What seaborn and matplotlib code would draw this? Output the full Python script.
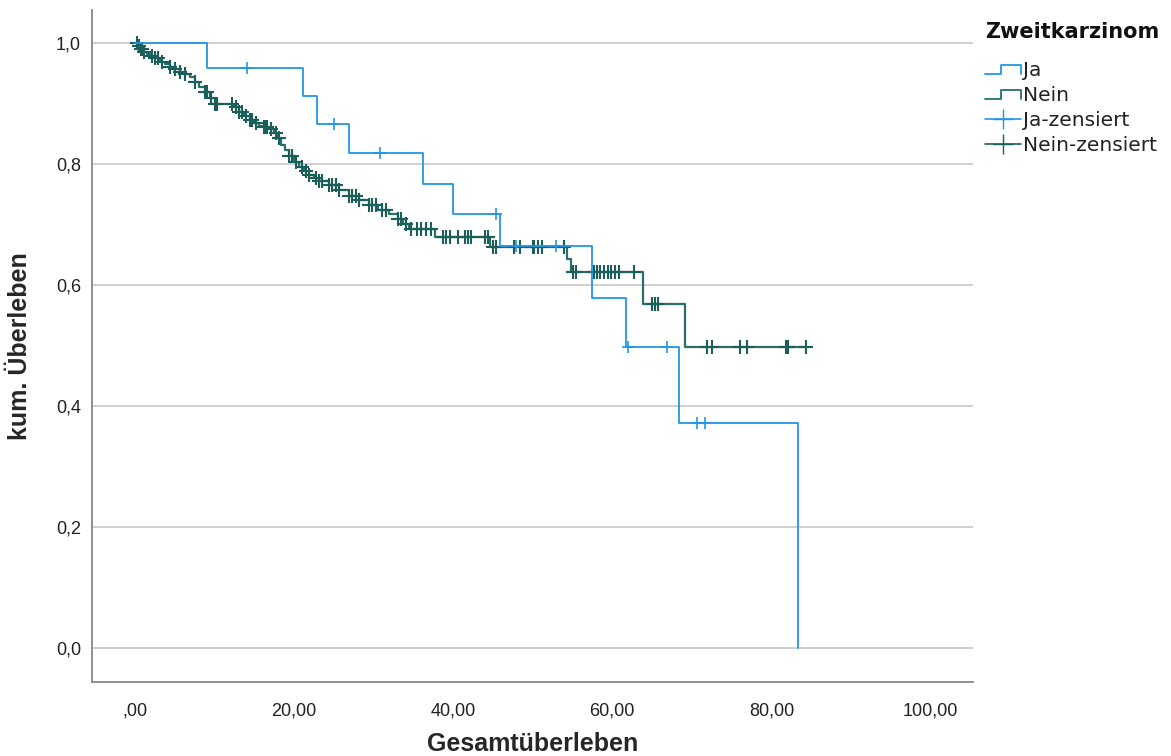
import numpy as np
import matplotlib
matplotlib.use("Agg")
import matplotlib.pyplot as plt
import seaborn as sns
from matplotlib.lines import Line2D
from matplotlib.legend_handler import HandlerBase

ja_zeit = [0.0, 9.0, 21.1, 22.9, 26.9, 36.25, 40.0, 45.9, 57.4, 61.7, 68.4, 83.4]
ja_surv = [1.0, 0.959, 0.912, 0.866, 0.818, 0.767, 0.717, 0.664, 0.579, 0.497, 0.372, 0.0]
ja_zensiert = [14.1, 25.0, 30.75, 45.4, 47.9, 52.9, 62.0, 66.9, 70.7, 71.7]

nein_zeit = [0.0, 0.4, 0.6, 1.0, 1.5, 1.9, 2.5, 3.1, 3.75, 4.4, 5.0, 5.6, 6.25, 6.9,
             7.5, 8.1, 8.75, 9.4, 10.0, 12.5, 13.1, 13.75, 14.4, 15.0, 15.6, 16.25,
             16.9, 17.5, 17.9, 18.4, 18.9, 19.4, 20.0, 20.6, 21.25, 21.9, 22.5, 23.1,
             24.4, 25.6, 26.9, 28.1, 29.4, 30.6, 31.9, 33.1, 33.75, 34.4, 37.75, 44.6,
             54.3, 54.75, 63.9, 69.1]
nein_surv = [1.0, 0.995, 0.990, 0.985, 0.982, 0.979, 0.975, 0.969, 0.965, 0.960, 0.957,
             0.952, 0.949, 0.944, 0.936, 0.927, 0.919, 0.909, 0.899, 0.894, 0.886, 0.879,
             0.873, 0.868, 0.863, 0.861, 0.858, 0.851, 0.843, 0.831, 0.823, 0.813, 0.803,
             0.795, 0.788, 0.782, 0.777, 0.772, 0.765, 0.757, 0.747, 0.740, 0.732, 0.724,
             0.717, 0.709, 0.701, 0.693, 0.679, 0.663, 0.643, 0.621, 0.569, 0.497]
nein_zensiert = [0.25, 0.5, 0.75, 0.9, 1.1, 2.1, 2.5, 2.9, 3.4, 4.4, 5.0, 5.6, 6.25, 7.5,
                 8.75, 9.1, 9.6, 10.0, 10.25, 12.25, 12.75, 13.1, 13.5, 14.0, 14.4, 14.75,
                 15.25, 16.25, 16.5, 16.6, 17.1, 17.75, 18.1, 19.4, 19.75, 20.25, 21.0,
                 21.5, 21.9, 22.75, 23.1, 23.5, 24.4, 24.75, 25.25, 25.6, 26.9, 27.25,
                 27.75, 28.1, 29.4, 29.75, 30.25, 31.0, 31.5, 33.1, 33.5, 34.1, 34.75,
                 35.4, 36.0, 36.6, 37.25, 38.75, 39.1, 39.6, 40.6, 41.5, 41.9, 42.25,
                 44.0, 44.4, 45.0, 45.4, 47.7, 48.4, 50.0, 50.2, 50.6, 51.2, 53.9, 55.0,
                 55.4, 57.7, 58.1, 58.5, 58.9, 59.4, 59.8, 60.4, 60.8, 62.7, 65.0, 65.4,
                 65.7, 71.9, 72.5, 76.0, 76.9, 81.9, 82.1, 84.4]

x_ticks = [0, 20, 40, 60, 80, 100]
x_ticklabels = [",00", "20,00", "40,00", "60,00", "80,00", "100,00"]
y_ticks = [0.0, 0.2, 0.4, 0.6, 0.8, 1.0]
y_ticklabels = ["0,0", "0,2", "0,4", "0,6", "0,8", "1,0"]

farbe_ja = "#2196e6"
farbe_nein = "#1b5f5a"
schrift = ['Liberation Sans', 'DejaVu Sans']

sns.set_style("white")
plt.rcParams['font.family'] = ['DejaVu Sans']


def kurve(zeit, surv, zensiert):
    ende = max(zeit[-1], max(zensiert))
    x = np.append(zeit, ende)
    y = np.append(surv, surv[-1])
    idx = np.searchsorted(zeit, zensiert, side='right') - 1
    cy = np.array(surv)[idx]
    return x, y, cy


fig = plt.figure(figsize=(11.71, 7.56), dpi=100)
ax = fig.add_axes([0.0786, 0.098, 0.752, 0.889])

for y in y_ticks:
    ax.axhline(y, color="#c8c8c8", linewidth=1.2, zorder=0)

x, y, cy = kurve(ja_zeit, ja_surv, ja_zensiert)
sns.lineplot(x=x, y=y, drawstyle='steps-post', color=farbe_ja, linewidth=1.3,
             estimator=None, sort=False, ax=ax, zorder=3)
sns.scatterplot(x=ja_zensiert, y=cy, marker='+', s=80, color=farbe_ja,
                linewidth=1.2, ax=ax, zorder=4)

x, y, cy = kurve(nein_zeit, nein_surv, nein_zensiert)
sns.lineplot(x=x, y=y, drawstyle='steps-post', color="#2a6e69", linewidth=1.6,
             estimator=None, sort=False, ax=ax, zorder=2)
sns.scatterplot(x=nein_zensiert, y=cy, marker='+', s=90, color=farbe_nein,
                linewidth=1.5, ax=ax, zorder=2)

ax.set_xlim(-5.4, 105.3)
ax.set_ylim(-0.056, 1.055)
ax.set_xticks(x_ticks)
ax.set_xticklabels(x_ticklabels)
ax.set_yticks(y_ticks)
ax.set_yticklabels(y_ticklabels)
ax.tick_params(length=0, colors="#222222", pad=8)
ax.tick_params(axis='x', pad=15)
for lab in ax.get_xticklabels() + ax.get_yticklabels():
    lab.set_family(schrift)
    lab.set_fontsize(13)

for s in ['top', 'right']:
    ax.spines[s].set_visible(False)
for s in ['left', 'bottom']:
    ax.spines[s].set_color("#888888")
    ax.spines[s].set_linewidth(1.3)

ax.set_xlabel("Gesamtüberleben", fontsize=18, fontweight='bold',
              family=schrift, labelpad=9)
ax.set_ylabel("kum. Überleben", fontsize=18, fontweight='bold',
              family=schrift, labelpad=17)


class StufenHandler(HandlerBase):
    def create_artists(self, legend, orig_handle, xd, yd, width, height, fontsize, trans):
        w, h = width, height
        xs = [-xd, -xd + 0.45 * w, -xd + 0.45 * w, -xd + w, -xd + w]
        ys = [-yd + 0.15 * h, -yd + 0.15 * h, -yd + 0.8 * h, -yd + 0.8 * h, -yd + 0.15 * h]
        line = Line2D(xs, ys, color=orig_handle.get_color(), linewidth=1.3, transform=trans)
        return [line]


fig.text(0.841, 1 - 32 / 756, "Zweitkarzinom", fontsize=15, fontweight='bold',
         ha='left', va='center', color="#111111")

h_ja = Line2D([], [], color=farbe_ja)
h_nein = Line2D([], [], color="#2a6e69")
h_ja_z = Line2D([], [], color=farbe_ja, marker='+', markersize=14, linewidth=1.2)
h_nein_z = Line2D([], [], color=farbe_nein, marker='+', markersize=14, linewidth=1.2)
leg = fig.legend([h_ja, h_nein, h_ja_z, h_nein_z],
                 ["Ja", "Nein", "Ja-zensiert", "Nein-zensiert"],
                 loc='upper left', bbox_to_anchor=(0.841, 1 - 61 / 756),
                 frameon=False, fontsize=14.5, handlelength=1.8, handletextpad=0.1,
                 labelspacing=0.3, borderaxespad=0, borderpad=0,
                 labelcolor="#222222",
                 handler_map={h_ja: StufenHandler(), h_nein: StufenHandler()})

fig.savefig("out.png", dpi=100)
